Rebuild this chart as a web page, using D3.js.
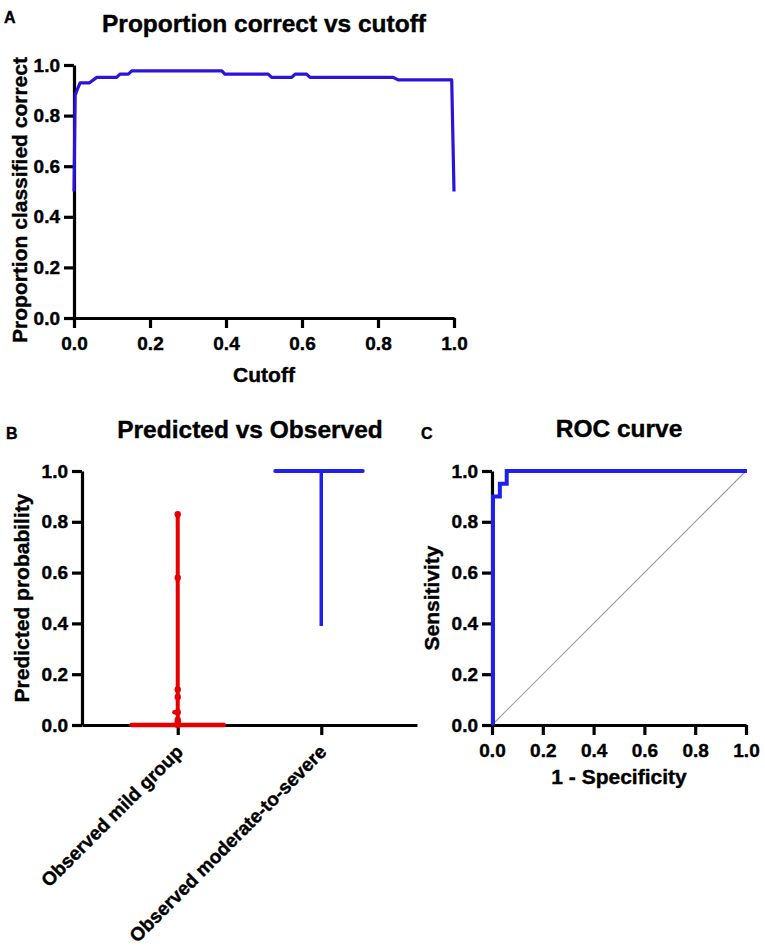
<!DOCTYPE html>
<html>
<head>
<meta charset="utf-8">
<script src="https://cdn.jsdelivr.net/npm/d3@7"></script>
<style>
  body { margin: 0; background: #fff; }
  svg { font-family: "Liberation Sans", Arial, sans-serif; font-weight: bold; }
  svg text { stroke: #000; stroke-width: 0.4px; }
  .axis text { font-size: 19px; font-weight: bold; fill: #000; font-family: "Liberation Sans", Arial, sans-serif; }
</style>
</head>
<body>
<div id="chart"></div>
<script>
// Panel A: proportion correctly classified vs cutoff
var cutoffs    = [0, 0.003, 0.009, 0.016, 0.040, 0.060, 0.112, 0.121, 0.143, 0.152, 0.389, 0.397, 0.511, 0.520, 0.573, 0.582, 0.612, 0.621, 0.840, 0.853, 0.994, 1.0];
var propCorrect = [0.50, 0.88, 0.905, 0.929, 0.929, 0.951, 0.951, 0.964, 0.964, 0.977, 0.977, 0.964, 0.964, 0.951, 0.951, 0.964, 0.964, 0.951, 0.951, 0.941, 0.941, 0.50];

// Panel B: predicted probability per observed group
var groups = ["Observed mild group", "Observed moderate-to-severe"];
var mildPredicted = [0.83, 0.58, 0.14, 0.11, 0.05, 0.05, 0.02, 0.01,
  0, 0, 0, 0, 0, 0, 0, 0, 0, 0, 0, 0, 0, 0, 0, 0, 0, 0, 0, 0, 0, 0, 0, 0, 0, 0, 0, 0, 0];
var severePredicted = [0.39,
  1, 1, 1, 1, 1, 1, 1, 1, 1, 1, 1, 1, 1, 1, 1, 1, 1, 1, 1, 1];

// Panel C: ROC curve
var rocFpr = [0, 0, 0.027, 0.027, 0.054, 0.054, 1];
var rocTpr = [0, 0.9, 0.9, 0.95, 0.95, 1, 1];

var ticks01 = [0, 0.2, 0.4, 0.6, 0.8, 1.0];

var svg = d3.select("#chart").append("svg")
  .attr("width", 765)
  .attr("height", 951);

function fmt(d) { return d3.format(".1f")(d); }

function styleAxis(g) {
  g.attr("class", "axis");
  g.selectAll("path, line").attr("stroke", "#000").attr("stroke-width", 3.2);
}
function leftAxis(g, scale) {
  g.call(d3.axisLeft(scale).tickValues(ticks01).tickFormat(fmt).tickSize(10).tickSizeOuter(0).tickPadding(4));
  styleAxis(g);
}
function bottomAxis(g, scale) {
  g.call(d3.axisBottom(scale).tickValues(ticks01).tickFormat(fmt).tickSize(10).tickSizeOuter(0).tickPadding(9));
  styleAxis(g);
}

function addText(x, y, str, size, rot) {
  svg.append("text")
    .attr("transform", "translate(" + x + "," + y + ")" + (rot ? " rotate(" + rot + ")" : ""))
    .attr("text-anchor", "middle")
    .attr("font-size", size)
    .attr("font-weight", "bold")
    .text(str);
}
function addLetter(x, y, str) {
  svg.append("text").attr("x", x).attr("y", y)
    .attr("font-size", 16).attr("font-weight", "bold").text(str);
}

// ---------- Panel A ----------
var xA = d3.scaleLinear().domain([0, 1]).range([74, 454]);
var yA = d3.scaleLinear().domain([0, 1]).range([318, 65]);

svg.append("g").attr("transform", "translate(0,318)").call(bottomAxis, xA);
svg.append("g").attr("transform", "translate(74,0)").call(leftAxis, yA);

svg.append("path")
  .datum(d3.zip(cutoffs, propCorrect))
  .attr("fill", "none")
  .attr("stroke", "#2a14dc")
  .attr("stroke-width", 3.2)
  .attr("stroke-linejoin", "round")
  .attr("d", d3.line().x(function(d) { return xA(d[0]); }).y(function(d) { return yA(d[1]); }));

addLetter(4, 23, "A");
addText(264, 32, "Proportion correct vs cutoff", 24.5);
addText(27, 200, "Proportion classified correct", 21, -90);
addText(264, 382, "Cutoff", 21);

// ---------- Panel B ----------
var xB = d3.scalePoint().domain(groups).range([82, 417]).padding(0.667);
var yB = d3.scaleLinear().domain([0, 1]).range([725, 471]);

var gBx = svg.append("g").attr("transform", "translate(0,725)");
gBx.call(d3.axisBottom(xB).tickSize(10).tickSizeOuter(0));
styleAxis(gBx);
gBx.selectAll(".tick text")
  .attr("y", 0).attr("dy", 0)
  .attr("text-anchor", "end")
  .attr("transform", "translate(6,28) rotate(-45)");
svg.append("g").attr("transform", "translate(82,0)").call(leftAxis, yB);

// spread tied values side by side, like a column scatter
function spread(values, spacing) {
  var seen = new Map();
  return values.map(function(v) {
    var k = seen.get(v) || 0;
    seen.set(v, k + 1);
    var off = k === 0 ? 0 : Math.ceil(k / 2) * (k % 2 ? -1 : 1) * spacing;
    return { v: v, off: off };
  });
}

function drawGroup(name, values, color, spacing, r, lw) {
  var pts = spread(values, spacing);
  var cx = xB(name);
  var g = svg.append("g");
  // range line
  g.append("line")
    .attr("x1", cx).attr("x2", cx)
    .attr("y1", yB(d3.min(values))).attr("y2", yB(d3.max(values)))
    .attr("stroke", color).attr("stroke-width", lw);
  // lines across tied values
  d3.group(pts, function(d) { return d.v; }).forEach(function(arr, v) {
    if (arr.length < 2) return;
    g.append("line")
      .attr("x1", cx + d3.min(arr, function(d) { return d.off; }))
      .attr("x2", cx + d3.max(arr, function(d) { return d.off; }))
      .attr("y1", yB(v)).attr("y2", yB(v))
      .attr("stroke", color).attr("stroke-width", lw + 0.5).attr("stroke-linecap", "round");
  });
  g.selectAll("circle")
    .data(pts.filter(function(d) { return d.off === 0; }))
    .enter()
    .append("circle")
    .attr("cx", function(d) { return cx + d.off; })
    .attr("cy", function(d) { return yB(d.v); })
    .attr("r", r)
    .attr("fill", color);
}
drawGroup(groups[0], mildPredicted, "#e60000", 3.3, 3.2, 4);
drawGroup(groups[1], severePredicted, "#1f1ff0", 4.6, 0, 3.5);

addLetter(6, 439, "B");
addText(250, 438, "Predicted vs Observed", 24.5);
addText(29, 598, "Predicted probability", 21, -90);

// ---------- Panel C ----------
var xC = d3.scaleLinear().domain([0, 1]).range([492, 746]);
var yC = d3.scaleLinear().domain([0, 1]).range([725, 471]);

svg.append("g").attr("transform", "translate(0,725)").call(bottomAxis, xC);
svg.append("g").attr("transform", "translate(492,0)").call(leftAxis, yC);

// reference diagonal
svg.append("line")
  .attr("x1", xC(0)).attr("y1", yC(0))
  .attr("x2", xC(1)).attr("y2", yC(1))
  .attr("stroke", "#a0a0a0").attr("stroke-width", 1.2);

svg.append("path")
  .datum(d3.zip(rocFpr, rocTpr))
  .attr("fill", "none")
  .attr("stroke", "#2020ee")
  .attr("stroke-width", 4)
  .attr("d", d3.line().x(function(d) { return xC(d[0]) + 1; }).y(function(d) { return yC(d[1]); }));

addLetter(421, 439, "C");
addText(619, 437, "ROC curve", 24.5);
addText(439, 598, "Sensitivity", 21, -90);
addText(619, 784, "1 - Specificity", 21);
</script>
</body>
</html>
